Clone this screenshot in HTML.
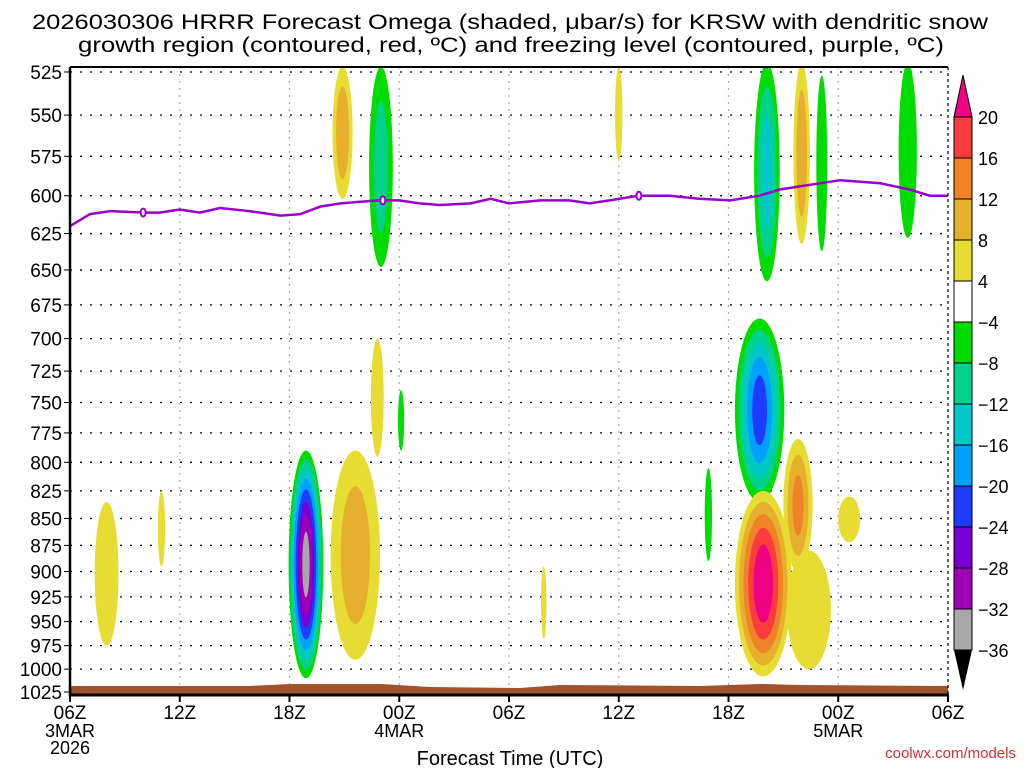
<!DOCTYPE html>
<html><head><meta charset="utf-8"><style>
body{margin:0;background:#fff;}
svg text{font-family:"Liberation Sans",sans-serif;}
</style></head><body>
<svg id="chart" width="1024" height="768" xmlns="http://www.w3.org/2000/svg">
<text x="510" y="29" text-anchor="middle" font-size="21" textLength="956" lengthAdjust="spacingAndGlyphs">2026030306 HRRR Forecast Omega (shaded, μbar/s) for KRSW with dendritic snow</text>
<text x="511" y="52" text-anchor="middle" font-size="21" textLength="866" lengthAdjust="spacingAndGlyphs">growth region (contoured, red, ºC) and freezing level (contoured, purple, ºC)</text>
<defs><clipPath id="pc"><rect x="70" y="67" width="878" height="628"/></clipPath></defs>
<g id="grid"></g>
<g id="fields" clip-path="url(#pc)"></g>
<g id="frz" clip-path="url(#pc)"></g>
<g id="axes"></g>
<g id="cbar"></g>
<text x="510" y="765" text-anchor="middle" font-size="20">Forecast Time (UTC)</text>
<text x="1016" y="758" text-anchor="end" font-size="15" fill="#d03030">coolwx.com/models</text>
</svg>
<script>
const pTicks=[525,550,575,600,625,650,675,700,725,750,775,800,825,850,875,900,925,950,975,1000,1025];
const xTickHours=[0,6,12,18,24,30,36,42,48];
const xTickLabels=["06Z","12Z","18Z","00Z","06Z","12Z","18Z","00Z","06Z"];
const xTickSub=["3MAR","","","4MAR","","","","5MAR",""];
const levels=[-36,-32,-28,-24,-20,-16,-12,-8,-4,4,8,12,16,20];
const levelColors=["#a8a8a8","#a000b4","#7800d2","#1e3cff","#00a0ff","#00c8c8","#00d28c","#00dc00","#ffffff","#e6dc32","#e6af2d","#f08228","#fa3c3c","#f00082"];
// blobs: hour, pTop, pBottom, halfwidth(hours), peak
const blobHours=[2.0,5.0,12.9,15.6,16.8,14.9,17.0,18.1,25.9,30.0,34.9,37.7,37.9,39.8,40.4,38.1,40.0,41.1,42.6,45.8];
const blobPTop=[835,825,790,790,700,522,522,740,895,522,805,685,825,780,880,520,520,527,830,520];
const blobPBot=[975,895,1010,990,795,602,648,790,968,578,890,835,1008,900,1000,658,632,637,872,628];
const blobHalf=[0.65,0.2,0.95,1.35,0.35,0.55,0.65,0.17,0.15,0.2,0.2,1.35,1.55,0.8,1.2,0.7,0.45,0.3,0.6,0.5];
const blobPeak=[6,5,-34,10,5,11,-10,-5,5,5,-5,-22,23,13,6,-14,11,-6,5,-7];
// freezing level
const frzHours=[0,1.1,2.2,4.1,4.9,6,7.1,8.2,9.8,11.5,12.6,13.7,14.8,15.8,16.9,18,19.1,20.2,21.9,23,24,25.7,27.3,28.4,29.5,31.1,32.8,34.4,36.1,37.7,38.8,39.9,41,42.1,43.2,44.3,45.9,47,48];
const frzP=[620,612,610,611,611,609,611,608,610,613,612,607,605,604,603,603,605,606,605,602,605,603,603,605,603,600,600,602,603,600,596,594,592,590,591,592,596,600,600];
const ns="http://www.w3.org/2000/svg";
const X0=70,X1=948,YT=72,YB=692;
const lp0=Math.log(525),lp1=Math.log(1025);
function xs(h){return X0+(X1-X0)*h/48;}
function ys(p){return YT+(YB-YT)*(Math.log(p)-lp0)/(lp1-lp0);}
function mk(tag,attrs,parent){const e=document.createElementNS(ns,tag);for(const k in attrs)e.setAttribute(k,attrs[k]);parent.appendChild(e);return e;}
const grid=document.getElementById('grid'),fields=document.getElementById('fields'),axes=document.getElementById('axes'),cbar=document.getElementById('cbar'),frz=document.getElementById('frz');
pTicks.forEach(p=>{
  const l=mk('line',{x1:X0,x2:X1,y1:ys(p),y2:ys(p),stroke:'#000','stroke-width':1.3,'stroke-dasharray':'2 8'},grid);
  
  
  const t=mk('text',{x:62,y:ys(p)+7,'text-anchor':'end','font-size':19},axes);t.textContent=p;
  
  
  mk('line',{x1:64,x2:70,y1:ys(p),y2:ys(p),stroke:'#000','stroke-width':1},axes);
});
xTickHours.forEach((h,i)=>{
  if(i>0&&i<8){const l=mk('line',{x1:xs(h),x2:xs(h),y1:67,y2:695,stroke:'#aaa','stroke-width':1.2,'stroke-dasharray':'2 5'},grid);
  
  }
  mk('line',{x1:xs(h),x2:xs(h),y1:695,y2:702,stroke:'#000','stroke-width':2},axes);
  const t=mk('text',{x:xs(h),y:719,'text-anchor':'middle','font-size':19},axes);t.textContent=xTickLabels[i];
  
  
  if(xTickSub[i]){const s=mk('text',{x:xs(h),y:737,'text-anchor':'middle','font-size':18},axes);s.textContent=xTickSub[i];
  
  }
});
const yr=mk('text',{x:xs(0),y:754,'text-anchor':'middle','font-size':18},axes);yr.textContent="2026";


blobHours.forEach((h,i)=>{
  const peak=blobPeak[i],cx=xs(h),yt=ys(blobPTop[i]),yb=ys(blobPBot[i]);
  const cy=(yt+yb)/2,ry=(yb-yt)/2,rx=(xs(blobHalf[i])-xs(0));
  const g=mk('g',{},fields);
  
  
  const a=Math.abs(peak);
  for(let L=4;L<a;L+=4){
    const s=Math.max(0.08,1-(L-4)/(a-2));
    let idx;
    if(peak>0){idx=levels.indexOf(L);} else {idx=levels.indexOf(-L)-1;}
    if(idx<0) idx=peak>0?13:0;
    const e=mk('ellipse',{cx:cx,cy:cy,rx:rx*Math.pow(s,0.75),ry:ry*Math.pow(s,0.6),fill:levelColors[Math.min(idx,13)]},g);
    
    
  }
});
const gr=mk('path',{d:`M70 695 L70 686 L250 686 L290 684 L380 684 L430 687 L520 688 L560 685 L700 686 L760 684 L800 685 L948 686 L948 695 Z`,fill:'#a0522d'},fields);


let d='';frzHours.forEach((h,i)=>{d+=(i?'L':'M')+xs(h).toFixed(1)+' '+ys(frzP[i]).toFixed(1)+' ';});
const fl=mk('path',{d:d,fill:'none',stroke:'#9900cc','stroke-width':2.5},frz);


[4,17.1,31.1].forEach(h=>{
  const y=ys(frzP[frzHours.findIndex(v=>v>=h)]);
  const o=mk('ellipse',{cx:xs(h),cy:y,rx:2.5,ry:4,fill:'#fff',stroke:'#9900cc','stroke-width':2},frz);
  
  
});
mk('line',{x1:70,x2:948,y1:67,y2:67,stroke:'#000','stroke-width':2},axes);
mk('line',{x1:70,x2:70,y1:67,y2:696,stroke:'#000','stroke-width':2.5},axes);
mk('line',{x1:69,x2:949,y1:695,y2:695,stroke:'#000','stroke-width':3},axes);
mk('line',{x1:948,x2:948,y1:67,y2:695,stroke:'#000','stroke-width':1.2,'stroke-dasharray':'3 3'},axes);
const cbX=954,cbW=18,cbTop=117,step=41;
const cbLabels=[20,16,12,8,4,-4,-8,-12,-16,-20,-24,-28,-32,-36];
const tri1=mk('path',{d:`M${cbX} ${cbTop} L${cbX+cbW/2} 75 L${cbX+cbW} ${cbTop} Z`,fill:'#f00082',stroke:'#000'},cbar);


for(let k=0;k<13;k++){
  const col=levelColors[12-k];
  const r=mk('rect',{x:cbX,y:cbTop+k*step,width:cbW,height:step,fill:col,stroke:'#000','stroke-width':1},cbar);
  
  
}
const tri2=mk('path',{d:`M${cbX} ${cbTop+13*step} L${cbX+cbW/2} 690 L${cbX+cbW} ${cbTop+13*step} Z`,fill:'#000'},cbar);


cbLabels.forEach((v,k)=>{
  const t=mk('text',{x:978,y:cbTop+k*step+7,'font-size':18},cbar);t.textContent=v<0?'−'+(-v):v;
  
  
});
</script>
</body></html>
